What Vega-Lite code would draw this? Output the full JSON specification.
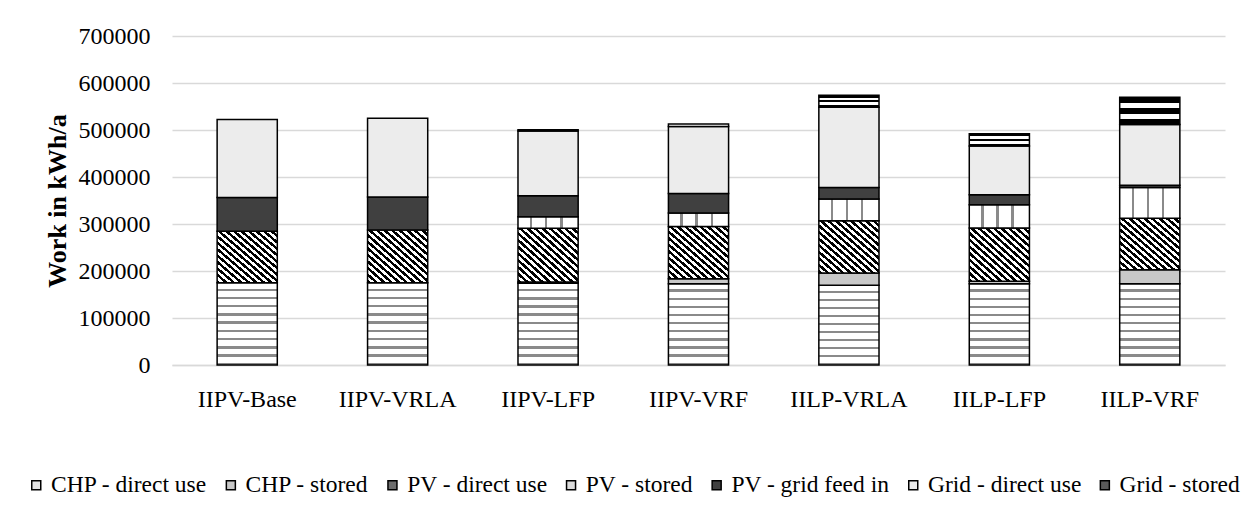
{
  "$schema": "https://vega.github.io/schema/vega-lite/v6.json",
  "width": 1053,
  "height": 329,
  "autosize": {"type": "none"},
  "padding": {"left": 172, "top": 36, "right": 28, "bottom": 153},
  "background": "white",
  "config": {
    "view": {"stroke": null},
    "font": "Liberation Serif",
    "axis": {"labelFont": "Liberation Serif", "titleFont": "Liberation Serif", "labelColor": "#000000", "titleColor": "#000000"},
    "legend": {"labelFont": "Liberation Serif"}
  },
  "data": {
    "values": [
      {"cfg": "IIPV-Base", "src": "CHP - direct use", "k": 1, "v": 175000},
      {"cfg": "IIPV-Base", "src": "PV - direct use", "k": 3, "v": 109500},
      {"cfg": "IIPV-Base", "src": "PV - grid feed in", "k": 5, "v": 72000},
      {"cfg": "IIPV-Base", "src": "Grid - direct use", "k": 6, "v": 166000},
      {"cfg": "IIPV-VRLA", "src": "CHP - direct use", "k": 1, "v": 175000},
      {"cfg": "IIPV-VRLA", "src": "PV - direct use", "k": 3, "v": 112000},
      {"cfg": "IIPV-VRLA", "src": "PV - grid feed in", "k": 5, "v": 70500},
      {"cfg": "IIPV-VRLA", "src": "Grid - direct use", "k": 6, "v": 167500},
      {"cfg": "IIPV-LFP", "src": "CHP - direct use", "k": 1, "v": 174000},
      {"cfg": "IIPV-LFP", "src": "CHP - stored", "k": 2, "v": 2500},
      {"cfg": "IIPV-LFP", "src": "PV - direct use", "k": 3, "v": 114500},
      {"cfg": "IIPV-LFP", "src": "PV - stored", "k": 4, "v": 24500},
      {"cfg": "IIPV-LFP", "src": "PV - grid feed in", "k": 5, "v": 44500},
      {"cfg": "IIPV-LFP", "src": "Grid - direct use", "k": 6, "v": 138000},
      {"cfg": "IIPV-LFP", "src": "Grid - stored", "k": 7, "v": 2500},
      {"cfg": "IIPV-VRF", "src": "CHP - direct use", "k": 1, "v": 173000},
      {"cfg": "IIPV-VRF", "src": "CHP - stored", "k": 2, "v": 10500},
      {"cfg": "IIPV-VRF", "src": "PV - direct use", "k": 3, "v": 111000},
      {"cfg": "IIPV-VRF", "src": "PV - stored", "k": 4, "v": 29000},
      {"cfg": "IIPV-VRF", "src": "PV - grid feed in", "k": 5, "v": 41500},
      {"cfg": "IIPV-VRF", "src": "Grid - direct use", "k": 6, "v": 142500},
      {"cfg": "IIPV-VRF", "src": "Grid - stored", "k": 7, "v": 5500},
      {"cfg": "IILP-VRLA", "src": "CHP - direct use", "k": 1, "v": 169500},
      {"cfg": "IILP-VRLA", "src": "CHP - stored", "k": 2, "v": 26000},
      {"cfg": "IILP-VRLA", "src": "PV - direct use", "k": 3, "v": 111500},
      {"cfg": "IILP-VRLA", "src": "PV - stored", "k": 4, "v": 46000},
      {"cfg": "IILP-VRLA", "src": "PV - grid feed in", "k": 5, "v": 24500},
      {"cfg": "IILP-VRLA", "src": "Grid - direct use", "k": 6, "v": 171000},
      {"cfg": "IILP-VRLA", "src": "Grid - stored", "k": 7, "v": 25500},
      {"cfg": "IILP-LFP", "src": "CHP - direct use", "k": 1, "v": 173000},
      {"cfg": "IILP-LFP", "src": "CHP - stored", "k": 2, "v": 5000},
      {"cfg": "IILP-LFP", "src": "PV - direct use", "k": 3, "v": 113500},
      {"cfg": "IILP-LFP", "src": "PV - stored", "k": 4, "v": 49500},
      {"cfg": "IILP-LFP", "src": "PV - grid feed in", "k": 5, "v": 21000},
      {"cfg": "IILP-LFP", "src": "Grid - direct use", "k": 6, "v": 104000},
      {"cfg": "IILP-LFP", "src": "Grid - stored", "k": 7, "v": 26000},
      {"cfg": "IILP-VRF", "src": "CHP - direct use", "k": 1, "v": 173000},
      {"cfg": "IILP-VRF", "src": "CHP - stored", "k": 2, "v": 29500},
      {"cfg": "IILP-VRF", "src": "PV - direct use", "k": 3, "v": 110000},
      {"cfg": "IILP-VRF", "src": "PV - stored", "k": 4, "v": 65000},
      {"cfg": "IILP-VRF", "src": "PV - grid feed in", "k": 5, "v": 5000},
      {"cfg": "IILP-VRF", "src": "Grid - direct use", "k": 6, "v": 129000},
      {"cfg": "IILP-VRF", "src": "Grid - stored", "k": 7, "v": 58000}
    ]
  },
  "mark": {"type": "bar", "stroke": "black", "strokeWidth": 1.5},
  "encoding": {
    "x": {
      "field": "cfg",
      "type": "nominal",
      "sort": ["IIPV-Base", "IIPV-VRLA", "IIPV-LFP", "IIPV-VRF", "IILP-VRLA", "IILP-LFP", "IILP-VRF"],
      "scale": {"paddingInner": 0.6, "paddingOuter": 0.3},
      "axis": {
        "title": null,
        "labelAngle": 0,
        "labelFont": "Liberation Serif",
        "labelFontSize": 24,
        "labelPadding": 22,
        "ticks": false,
        "domain": true,
        "domainColor": "#d9d9d9",
        "domainWidth": 1.5
      }
    },
    "y": {
      "field": "v",
      "type": "quantitative",
      "stack": "zero",
      "scale": {"domain": [0, 700000], "nice": false},
      "axis": {
        "title": "Work in kWh/a",
        "values": [0, 100000, 200000, 300000, 400000, 500000, 600000, 700000],
        "format": "d",
        "labelFont": "Liberation Serif",
        "labelFontSize": 24,
        "labelPadding": 22,
        "ticks": false,
        "domain": false,
        "gridColor": "#d9d9d9",
        "gridWidth": 1.5,
        "titleFont": "Liberation Serif",
        "titleFontSize": 26,
        "titleFontWeight": "bold",
        "titleX": -115,
        "titleY": 164.5,
        "titleAngle": -90,
        "titleAlign": "center",
        "titleBaseline": "middle"
      }
    },
    "order": {"field": "k", "type": "quantitative", "sort": "ascending"},
    "fill": {
      "field": "src",
      "type": "nominal",
      "sort": ["CHP - direct use", "CHP - stored", "PV - direct use", "PV - stored", "PV - grid feed in", "Grid - direct use", "Grid - stored"],
      "scale": {
        "domain": ["CHP - direct use", "CHP - stored", "PV - direct use", "PV - stored", "PV - grid feed in", "Grid - direct use", "Grid - stored"],
        "range": ["#e2e2e2", "#c8c8c8", "#6e6e6e", "#dcdcdc", "#404040", "#ececec", "#5a5a5a"]
      },
      "legend": {
        "title": null,
        "orient": "none",
        "legendX": -155.5,
        "legendY": 437,
        "direction": "horizontal",
        "columns": 7,
        "symbolType": "square",
        "symbolSize": 81,
        "symbolStrokeColor": "black",
        "symbolStrokeWidth": 1.5,
        "symbolOffset": 8,
        "labelFont": "Liberation Serif",
        "labelFontSize": 23.5,
        "labelColor": "#000000",
        "labelOffset": 3,
        "labelLimit": 400,
        "columnPadding": 3.6,
        "padding": 0
      },
      "condition": [
        {
          "test": "datum.src === 'PV - direct use'",
          "value": {
            "gradient": "linear", "x1": 0, "y1": 1, "x2": 1, "y2": 0,
            "stops": [
              {"offset": 0, "color": "black"}, {"offset": 0.03125, "color": "black"}, {"offset": 0.03125, "color": "white"}, {"offset": 0.0625, "color": "white"},
              {"offset": 0.0625, "color": "black"}, {"offset": 0.09375, "color": "black"}, {"offset": 0.09375, "color": "white"}, {"offset": 0.125, "color": "white"},
              {"offset": 0.125, "color": "black"}, {"offset": 0.15625, "color": "black"}, {"offset": 0.15625, "color": "white"}, {"offset": 0.1875, "color": "white"},
              {"offset": 0.1875, "color": "black"}, {"offset": 0.21875, "color": "black"}, {"offset": 0.21875, "color": "white"}, {"offset": 0.25, "color": "white"},
              {"offset": 0.25, "color": "black"}, {"offset": 0.28125, "color": "black"}, {"offset": 0.28125, "color": "white"}, {"offset": 0.3125, "color": "white"},
              {"offset": 0.3125, "color": "black"}, {"offset": 0.34375, "color": "black"}, {"offset": 0.34375, "color": "white"}, {"offset": 0.375, "color": "white"},
              {"offset": 0.375, "color": "black"}, {"offset": 0.40625, "color": "black"}, {"offset": 0.40625, "color": "white"}, {"offset": 0.4375, "color": "white"},
              {"offset": 0.4375, "color": "black"}, {"offset": 0.46875, "color": "black"}, {"offset": 0.46875, "color": "white"}, {"offset": 0.5, "color": "white"},
              {"offset": 0.5, "color": "black"}, {"offset": 0.53125, "color": "black"}, {"offset": 0.53125, "color": "white"}, {"offset": 0.5625, "color": "white"},
              {"offset": 0.5625, "color": "black"}, {"offset": 0.59375, "color": "black"}, {"offset": 0.59375, "color": "white"}, {"offset": 0.625, "color": "white"},
              {"offset": 0.625, "color": "black"}, {"offset": 0.65625, "color": "black"}, {"offset": 0.65625, "color": "white"}, {"offset": 0.6875, "color": "white"},
              {"offset": 0.6875, "color": "black"}, {"offset": 0.71875, "color": "black"}, {"offset": 0.71875, "color": "white"}, {"offset": 0.75, "color": "white"},
              {"offset": 0.75, "color": "black"}, {"offset": 0.78125, "color": "black"}, {"offset": 0.78125, "color": "white"}, {"offset": 0.8125, "color": "white"},
              {"offset": 0.8125, "color": "black"}, {"offset": 0.84375, "color": "black"}, {"offset": 0.84375, "color": "white"}, {"offset": 0.875, "color": "white"},
              {"offset": 0.875, "color": "black"}, {"offset": 0.90625, "color": "black"}, {"offset": 0.90625, "color": "white"}, {"offset": 0.9375, "color": "white"},
              {"offset": 0.9375, "color": "black"}, {"offset": 0.96875, "color": "black"}, {"offset": 0.96875, "color": "white"}, {"offset": 1, "color": "white"}
            ]
          }
        },
        {
          "test": "datum.src === 'Grid - stored'",
          "value": {
            "gradient": "linear", "x1": 0, "y1": 0, "x2": 0, "y2": 1,
            "stops": [
              {"offset": 0, "color": "black"}, {"offset": 0.2, "color": "black"}, {"offset": 0.2, "color": "white"}, {"offset": 0.4, "color": "white"},
              {"offset": 0.4, "color": "black"}, {"offset": 0.6, "color": "black"}, {"offset": 0.6, "color": "white"}, {"offset": 0.8, "color": "white"},
              {"offset": 0.8, "color": "black"}, {"offset": 1, "color": "black"}
            ]
          }
        },
        {
          "test": "datum.src === 'CHP - direct use'",
          "value": {
            "gradient": "linear", "x1": 0, "y1": 0, "x2": 0, "y2": 1,
            "stops": [
              {"offset": 0, "color": "white"}, {"offset": 0.07, "color": "white"}, {"offset": 0.07, "color": "#8a8a8a"}, {"offset": 0.1, "color": "#8a8a8a"},
              {"offset": 0.1, "color": "white"}, {"offset": 0.17, "color": "white"}, {"offset": 0.17, "color": "#8a8a8a"}, {"offset": 0.2, "color": "#8a8a8a"},
              {"offset": 0.2, "color": "white"}, {"offset": 0.27, "color": "white"}, {"offset": 0.27, "color": "#8a8a8a"}, {"offset": 0.3, "color": "#8a8a8a"},
              {"offset": 0.3, "color": "white"}, {"offset": 0.37, "color": "white"}, {"offset": 0.37, "color": "#8a8a8a"}, {"offset": 0.4, "color": "#8a8a8a"},
              {"offset": 0.4, "color": "white"}, {"offset": 0.47, "color": "white"}, {"offset": 0.47, "color": "#8a8a8a"}, {"offset": 0.5, "color": "#8a8a8a"},
              {"offset": 0.5, "color": "white"}, {"offset": 0.57, "color": "white"}, {"offset": 0.57, "color": "#8a8a8a"}, {"offset": 0.6, "color": "#8a8a8a"},
              {"offset": 0.6, "color": "white"}, {"offset": 0.67, "color": "white"}, {"offset": 0.67, "color": "#8a8a8a"}, {"offset": 0.7, "color": "#8a8a8a"},
              {"offset": 0.7, "color": "white"}, {"offset": 0.77, "color": "white"}, {"offset": 0.77, "color": "#8a8a8a"}, {"offset": 0.8, "color": "#8a8a8a"},
              {"offset": 0.8, "color": "white"}, {"offset": 0.87, "color": "white"}, {"offset": 0.87, "color": "#8a8a8a"}, {"offset": 0.9, "color": "#8a8a8a"},
              {"offset": 0.9, "color": "white"}, {"offset": 0.97, "color": "white"}, {"offset": 0.97, "color": "#8a8a8a"}, {"offset": 1, "color": "#8a8a8a"}
            ]
          }
        },
        {
          "test": "datum.src === 'PV - stored'",
          "value": {
            "gradient": "linear", "x1": 0, "y1": 0, "x2": 1, "y2": 0,
            "stops": [
              {"offset": 0, "color": "white"}, {"offset": 0.2, "color": "white"}, {"offset": 0.2, "color": "#8a8a8a"}, {"offset": 0.24, "color": "#8a8a8a"},
              {"offset": 0.24, "color": "white"}, {"offset": 0.45, "color": "white"}, {"offset": 0.45, "color": "#8a8a8a"}, {"offset": 0.49, "color": "#8a8a8a"},
              {"offset": 0.49, "color": "white"}, {"offset": 0.7, "color": "white"}, {"offset": 0.7, "color": "#8a8a8a"}, {"offset": 0.74, "color": "#8a8a8a"},
              {"offset": 0.74, "color": "white"}, {"offset": 1, "color": "white"}
            ]
          }
        }
      ]
    },
    "stroke": {"value": "black"}
  }
}
